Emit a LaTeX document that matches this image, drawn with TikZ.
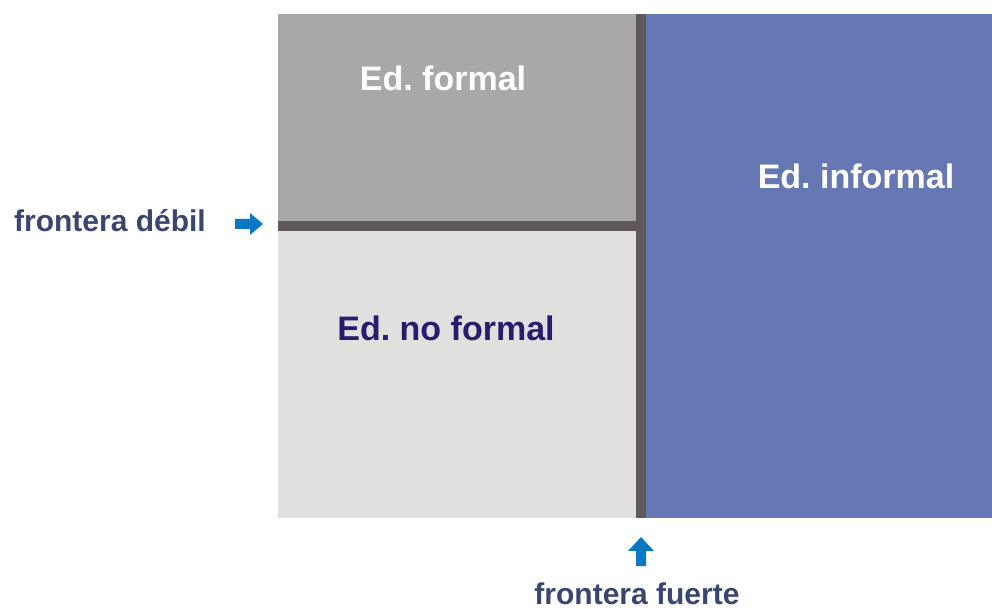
\documentclass[tikz,border=0pt]{standalone}
\usepackage{fontspec}
\setmainfont{Liberation Sans}
\usepackage{xcolor}
\usetikzlibrary{positioning}
\frenchspacing

\definecolor{formalgray}{HTML}{A8A8A8}
\definecolor{noformalgray}{HTML}{E0E0DE}
\definecolor{informalblue}{HTML}{6678B4}
\definecolor{borderdark}{HTML}{5E5858}
\definecolor{pointerblue}{HTML}{0A78C2}
\definecolor{labelslate}{HTML}{3B4670}
\definecolor{labelnavy}{HTML}{271C6E}

\begin{document}
\begin{tikzpicture}[
    x=1pt, y=-1pt,
    title/.style={font=\fontsize{34}{34}\selectfont\bfseries, anchor=base, inner sep=0pt},
    side/.style={font=\fontsize{30}{30}\selectfont\bfseries, anchor=base, inner sep=0pt, text=labelslate},
    pointer/.style={fill=pointerblue}
]
\useasboundingbox (0,0) rectangle (992,609);
% the three regions
\fill[formalgray] (278,14) rectangle (636,221);
\fill[noformalgray] (278,231) rectangle (636,518);
\fill[informalblue] (646,14) rectangle (992,518);
% borders
\fill[borderdark] (278,221) rectangle (636,231);
\fill[borderdark] (636,14) rectangle (646,518);
% labels
\node[title, text=white] (formal) at (443,91) {Ed. formal};
\node[title, text=labelnavy] (noformal) at (446,340) {Ed. no formal};
\node[title, text=white] (informal) at (856,189) {Ed. informal};
\node[side] (debil) at (110,232) {frontera débil};
\node[side] (fuerte) at (637,604) {frontera fuerte};
% pointers
\fill[pointer] (235,219) -- (250,219) -- (250,213) -- (263,224) -- (250,235)
    -- (250,229) -- (235,229) -- cycle;
\fill[pointer] (636,566) -- (636,551) -- (628,551) -- (641,537) -- (654,551)
    -- (646,551) -- (646,566) -- cycle;
\end{tikzpicture}
\end{document}
